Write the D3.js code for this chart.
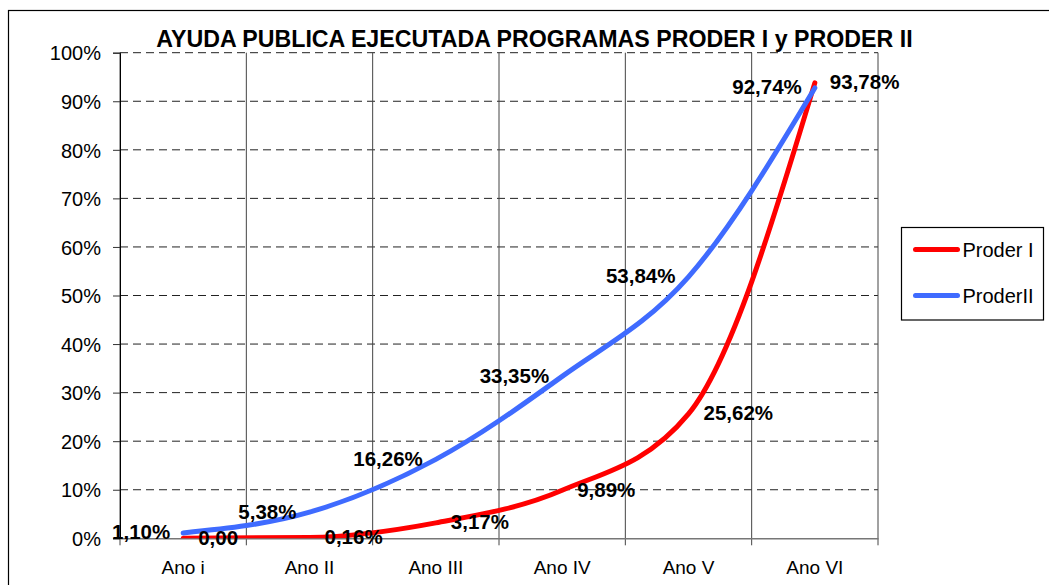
<!DOCTYPE html>
<html>
<head>
<meta charset="utf-8">
<script src="https://cdn.jsdelivr.net/npm/d3@7"></script>
<style>
  body { margin: 0; background: #fff; }
  text { font-family: Arial, "Liberation Sans", sans-serif; }
</style>
</head>
<body>
<div id="chart"></div>
<script>
const categories = ['Ano i', 'Ano II', 'Ano III', 'Ano IV', 'Ano V', 'Ano VI'];
const proderI = [0.0, 0.16, 3.17, 9.89, 25.62, 93.78];
const proderII = [1.10, 5.38, 16.26, 33.35, 53.84, 92.74];
const proderILabels = ['0,00', '0,16%', '3,17%', '9,89%', '25,62%', '93,78%'];
const proderIILabels = ['1,10%', '5,38%', '16,26%', '33,35%', '53,84%', '92,74%'];
const yTicks = [0, 10, 20, 30, 40, 50, 60, 70, 80, 90, 100];

const width = 1049;
const height = 585;
const margin = { top: 52.7, left: 120, right: 171, bottom: 46.7 };
const plotW = width - margin.left - margin.right;
const plotH = height - margin.top - margin.bottom;

const svg = d3.select('#chart').append('svg')
  .attr('width', width)
  .attr('height', height);

// outer chart border (cropped at right / bottom)
svg.append('rect')
  .attr('x', 8.5).attr('y', 10.5)
  .attr('width', 1100).attr('height', 700)
  .attr('fill', 'none')
  .attr('stroke', '#000')
  .attr('stroke-width', 1.2);

const g = svg.append('g')
  .attr('transform', `translate(${margin.left},${margin.top})`);

const xScale = d3.scaleBand()
  .domain(categories)
  .range([0, plotW])
  .padding(0);

const yScale = d3.scaleLinear()
  .domain([0, 100])
  .range([plotH, 0]);

const xPos = (i) => xScale(categories[i]) + xScale.bandwidth() / 2;

// horizontal dashed grid
g.selectAll('.hgrid')
  .data(yTicks.filter(d => d > 0))
  .enter().append('line')
  .attr('class', 'hgrid')
  .attr('x1', 0).attr('x2', plotW)
  .attr('y1', d => yScale(d)).attr('y2', d => yScale(d))
  .attr('stroke', '#222')
  .attr('stroke-width', 1)
  .attr('stroke-dasharray', '8,5');

// vertical grid at category boundaries
const bounds = categories.map(c => xScale(c)).concat([plotW]);
g.selectAll('.vgrid')
  .data(bounds)
  .enter().append('line')
  .attr('class', 'vgrid')
  .attr('x1', d => d).attr('x2', d => d)
  .attr('y1', 0).attr('y2', plotH + 7)
  .attr('stroke', '#444')
  .attr('stroke-width', 1);

// y axis
const yAxis = d3.axisLeft(yScale)
  .tickValues(yTicks)
  .tickSize(7)
  .tickPadding(12)
  .tickFormat(d => d + '%');

g.append('g')
  .attr('class', 'y-axis')
  .call(yAxis)
  .call(a => a.select('.domain').attr('stroke', '#000'))
  .call(a => a.selectAll('.tick line').attr('stroke', '#333'))
  .call(a => a.selectAll('.tick text')
    .attr('font-size', 20)
    .attr('fill', '#000')
    .attr('dy', '0.36em'));

// x axis
const xAxis = d3.axisBottom(xScale)
  .tickSize(0)
  .tickPadding(21);

g.append('g')
  .attr('class', 'x-axis')
  .attr('transform', `translate(0,${plotH})`)
  .call(xAxis)
  .call(a => a.select('.domain').attr('stroke', '#777').attr('stroke-width', 1.5))
  .call(a => a.selectAll('.tick text')
    .attr('font-size', 19)
    .attr('fill', '#000')
    .attr('dy', '0.75em'));

// lines
g.append('clipPath').attr('id', 'plotClip')
  .append('rect').attr('width', plotW).attr('height', plotH);

const line = d3.line()
  .x((d, i) => xPos(i))
  .y(d => yScale(d))
  .curve(d3.curveMonotoneX);

const series = [
  { name: 'Proder I', values: proderI, labels: proderILabels, color: '#ff0000' },
  { name: 'ProderII', values: proderII, labels: proderIILabels, color: '#3f6bff' }
];

g.selectAll('.series')
  .data(series)
  .enter().append('path')
  .attr('class', 'series')
  .attr('clip-path', 'url(#plotClip)')
  .attr('d', d => line(d.values))
  .attr('fill', 'none')
  .attr('stroke', d => d.color)
  .attr('stroke-width', 5)
  .attr('stroke-linejoin', 'round')
  .attr('stroke-linecap', 'round');

// data labels: Proder I to the right, ProderII to the left
series.forEach((s, si) => {
  g.selectAll(`.lbl${si}`)
    .data(s.values)
    .enter().append('text')
    .attr('class', `lbl${si}`)
    .attr('x', (d, i) => si === 0 ? xPos(i) + 15 : xPos(i) - 13)
    .attr('y', d => yScale(d) + 6.5)
    .attr('text-anchor', si === 0 ? 'start' : 'end')
    .attr('font-size', 20.5)
    .attr('font-weight', 'bold')
    .attr('fill', '#000')
    .text((d, i) => s.labels[i]);
});

// title
svg.append('text')
  .attr('x', 534.5)
  .attr('y', 47)
  .attr('text-anchor', 'middle')
  .attr('font-size', 23.2)
  .attr('font-weight', 'bold')
  .text('AYUDA PUBLICA EJECUTADA PROGRAMAS PRODER I y PRODER II');

// legend
const legend = svg.append('g').attr('transform', 'translate(901.5,227.5)');
legend.append('rect')
  .attr('width', 142).attr('height', 92.5)
  .attr('fill', '#fff')
  .attr('stroke', '#000')
  .attr('stroke-width', 1.2);

const item = legend.selectAll('.item')
  .data(series)
  .enter().append('g')
  .attr('class', 'item')
  .attr('transform', (d, i) => `translate(0,${22 + i * 46})`);

item.append('line')
  .attr('x1', 14).attr('x2', 56)
  .attr('stroke', d => d.color)
  .attr('stroke-width', 5)
  .attr('stroke-linecap', 'round');

item.append('text')
  .attr('x', 61)
  .attr('y', 7)
  .attr('font-size', 20)
  .text(d => d.name);
</script>
</body>
</html>
